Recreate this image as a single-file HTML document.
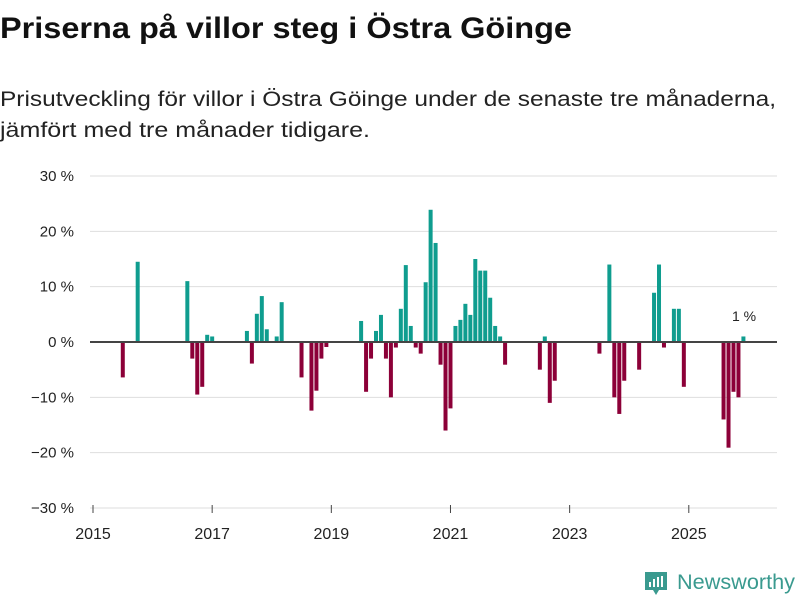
<!DOCTYPE html>
<html><head><meta charset="utf-8"><style>
body{margin:0;background:#fff;width:800px;height:600px;overflow:hidden;font-family:"Liberation Sans",sans-serif;}
svg text{font-family:"Liberation Sans",sans-serif;}
</style></head><body>
<svg width="800" height="600">
<text x="0" y="38" font-size="30" font-weight="bold" fill="#111" textLength="572" lengthAdjust="spacingAndGlyphs">Priserna på villor steg i Östra Göinge</text>
<text x="0" y="106" font-size="21" fill="#222" textLength="776" lengthAdjust="spacingAndGlyphs">Prisutveckling för villor i Östra Göinge under de senaste tre månaderna,</text>
<text x="0" y="137" font-size="21" fill="#222" textLength="370" lengthAdjust="spacingAndGlyphs">jämfört med tre månader tidigare.</text>
<g id="grid"></g><g id="bars"></g><g id="axes"></g>
<text x="744" y="321" font-size="14" fill="#222" text-anchor="middle">1 %</text>
<g>
<path d="M645 572 h22 v18 h-8 l-3 5 l-3 -5 h-8 z" fill="#3a9a8f"/>
<rect x="649" y="582" width="2" height="5" fill="#fff"/><rect x="653" y="579" width="2" height="8" fill="#fff"/><rect x="657" y="577" width="2" height="10" fill="#fff"/><rect x="661" y="576" width="2" height="11" fill="#fff"/>
<text x="677" y="589" font-size="21" fill="#3a9a8f" textLength="118" lengthAdjust="spacingAndGlyphs">Newsworthy</text>
</g>
</svg>
<script>
const months=[6,9,19,20,21,22,23,24,31,32,33,34,35,37,38,42,44,45,46,47,54,55,56,57,58,59,60,61,62,63,64,65,66,67,68,69,70,71,72,73,74,75,76,77,78,79,80,81,82,83,90,91,92,93,102,104,105,106,107,110,113,114,115,117,118,119,127,128,129,130,131];
const values=[-6.4,14.5,11.0,-3.0,-9.5,-8.1,1.3,1.0,2.0,-3.9,5.1,8.3,2.3,1.0,7.2,-6.4,-12.4,-8.8,-3.0,-0.9,3.8,-9.0,-3.0,2.0,4.9,-3.0,-10.0,-1.0,6.0,13.9,2.9,-1.0,-2.1,10.8,23.9,17.9,-4.1,-16.0,-12.0,2.9,4.0,6.9,4.9,15.0,12.9,12.9,8.0,2.9,1.0,-4.1,-5.0,1.0,-11.0,-7.0,-2.1,14.0,-10.0,-13.0,-7.0,-5.0,8.9,14.0,-1.0,6.0,6.0,-8.1,-14.0,-19.1,-9.0,-10.0,1.0];
const yTicks=[30,20,10,0,-10,-20,-30];
const yTickLabels=["30 %","20 %","10 %","0 %","−10 %","−20 %","−30 %"];
const xTickYears=[2015,2017,2019,2021,2023,2025];
const NS='http://www.w3.org/2000/svg';
const x=m=>93+m*4.965;
const y=v=>342-v*5.533;
function mk(t,a,p){const e=document.createElementNS(NS,t);for(const k in a)e.setAttribute(k,a[k]);p.appendChild(e);return e;}
const grid=document.getElementById('grid'),bars=document.getElementById('bars'),axes=document.getElementById('axes');
yTicks.forEach((v,i)=>{
 if(v!==0){const l=mk('line',{x1:90,x2:777,y1:y(v),y2:y(v),stroke:'#dedede','stroke-width':1},grid);
 
 }
 const t=mk('text',{x:74,y:y(v)+5,'font-size':15,fill:'#222','text-anchor':'end'},axes);
 t.textContent=yTickLabels[i];
 
 
});
months.forEach((m,i)=>{
 const v=values[i];
 const r=mk('rect',{x:x(m)-2,width:4,y:v>=0?y(v):y(0),height:Math.abs(y(v)-y(0)),fill:v>=0?'#0f9d8f':'#8c0038'},bars);
 
 
});
const z=mk('line',{x1:90,x2:777,y1:y(0),y2:y(0),stroke:'#444','stroke-width':2},axes);


xTickYears.forEach(yr=>{
 const px=x((yr-2015)*12);
 const tk=mk('line',{x1:px,x2:px,y1:505,y2:513,stroke:'#444','stroke-width':1},axes);
 
 
 const t=mk('text',{x:px,y:539,'font-size':16,fill:'#222','text-anchor':'middle'},axes);
 t.textContent=yr;
 
 
});
</script>
</body></html>
